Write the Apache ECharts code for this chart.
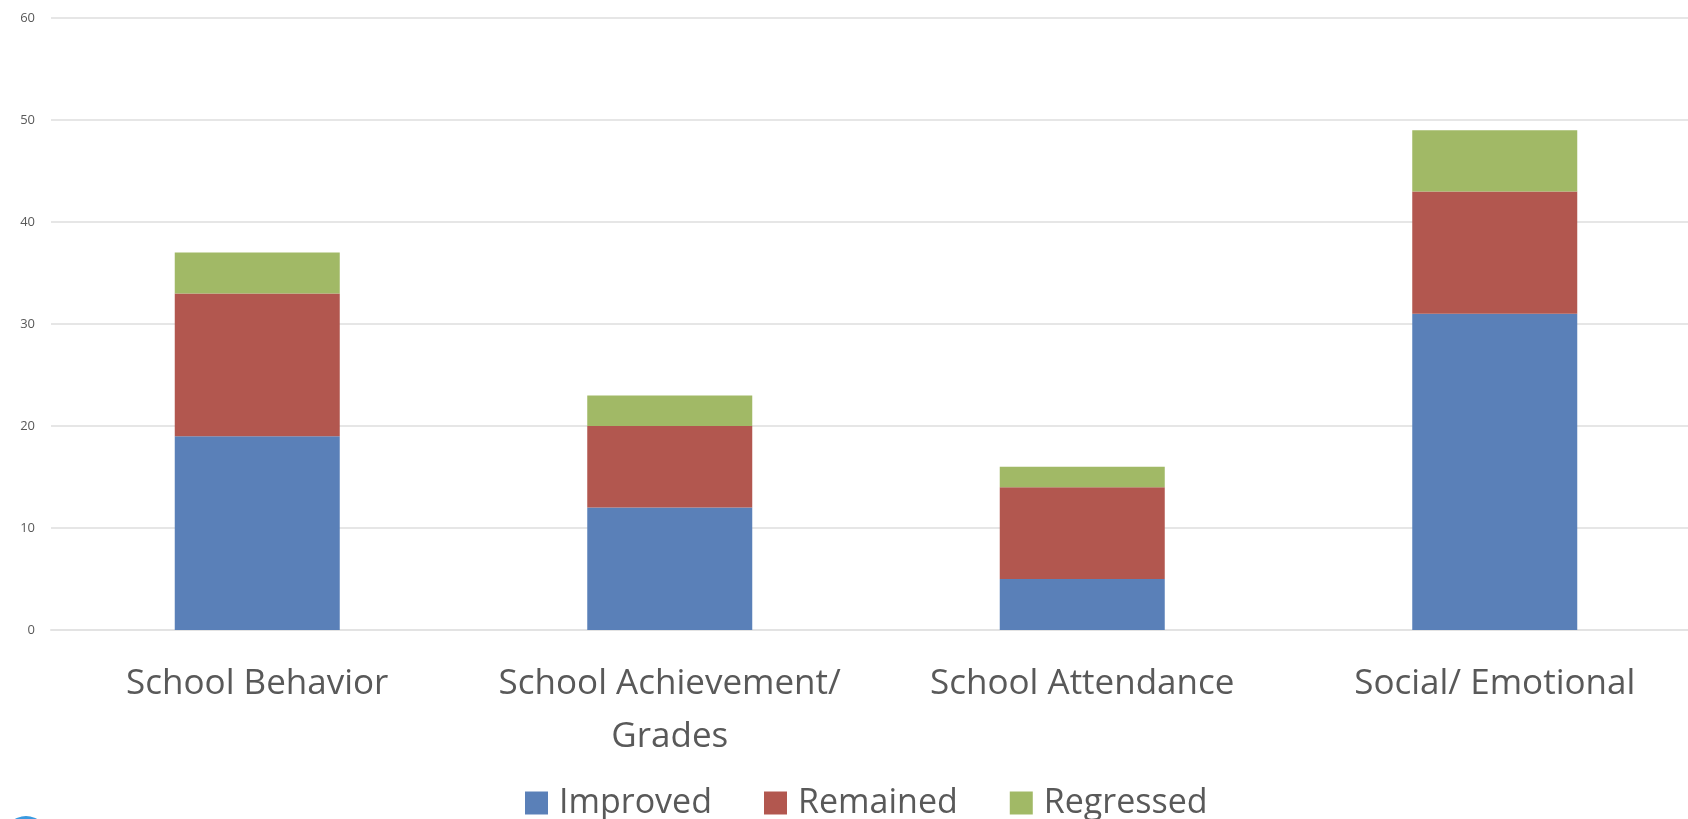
<!DOCTYPE html>
<html>
<head>
<meta charset="utf-8">
<script src="https://cdn.jsdelivr.net/npm/echarts@6/dist/echarts.min.js"></script>
<style>
  html, body { margin: 0; padding: 0; background: #fff; overflow: hidden; }
  #chart { width: 1701px; height: 819px; }
</style>
</head>
<body>
<div id="chart"></div>
<script>
const categories = ["School Behavior", "School Achievement/\nGrades", "School Attendance", "Social/ Emotional"];
const improved = [19, 12, 5, 31];
const remained = [14, 8, 9, 12];
const regressed = [4, 3, 2, 6];

const myChart = echarts.init(document.getElementById("chart"));
const labelColor = "#595959";
const font = "Open Sans";

// the plot runs slightly past the right edge of the window, like the source
const option = {
  animation: false,
  grid: { left: 51, right: 0, top: 18, bottom: 189, containLabel: false },
  legend: {
    data: ["Improved", "Remained", "Regressed"],
    left: 520,
    top: 781,
    itemWidth: 23,
    itemHeight: 23,
    itemGap: 52,
    icon: "rect",
    textStyle: { color: labelColor, fontSize: 34, fontFamily: font, padding: [0, 0, 0, 6] },
  },
  xAxis: {
    type: "category",
    data: categories,
    axisLine: { lineStyle: { color: "#e3e3e3", width: 2 } },
    axisTick: { show: false },
    axisLabel: {
      color: labelColor,
      fontSize: 35,
      fontFamily: font,
      lineHeight: 53,
      margin: 28,
      interval: 0,
    },
  },
  yAxis: {
    type: "value",
    min: 0,
    max: 60,
    interval: 10,
    axisLine: { show: false },
    axisTick: { show: false },
    axisLabel: { color: labelColor, fontSize: 13, fontFamily: font, margin: 16 },
    splitLine: { lineStyle: { color: "#e6e6e6", width: 2 } },
  },
  series: [
    { name: "Improved", type: "bar", stack: "total", data: improved, barWidth: "40%", itemStyle: { color: "#5a80b8" } },
    { name: "Remained", type: "bar", stack: "total", data: remained, itemStyle: { color: "#b2574f" } },
    { name: "Regressed", type: "bar", stack: "total", data: regressed, itemStyle: { color: "#a1b966" } },
  ],
  graphic: [
    { type: "circle", shape: { cx: 26, cy: 838, r: 22 }, style: { fill: "#3a9ae0" } },
  ],
};
myChart.setOption(option);
</script>
</body>
</html>
